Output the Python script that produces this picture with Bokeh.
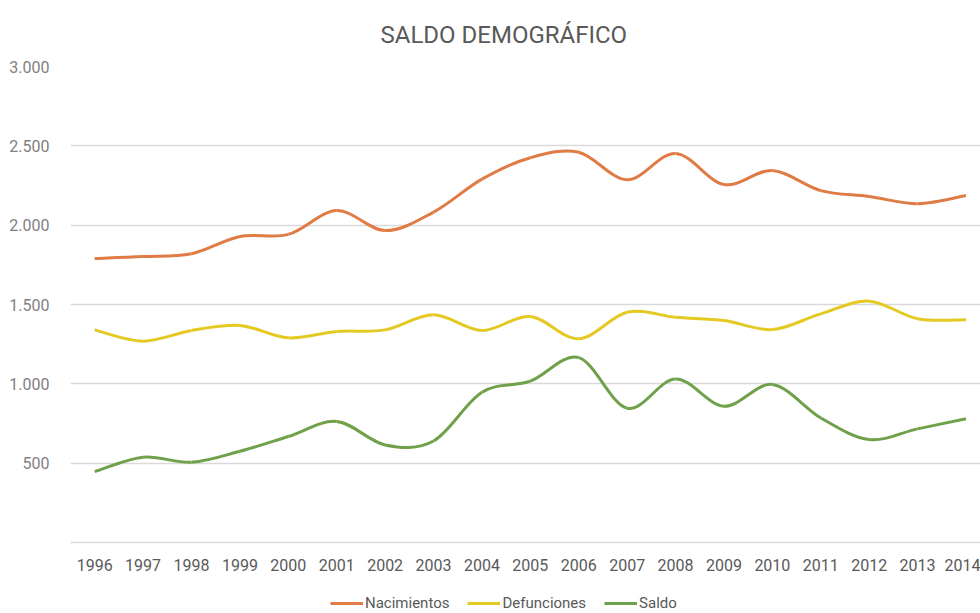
from bokeh.plotting import figure
from bokeh.layouts import column
from bokeh.models import ColumnDataSource, FixedTicker, Range1d, Legend, LegendItem
from bokeh.embed import file_html
from bokeh.resources import INLINE

years = list(range(1996, 2015))
nacimientos = [1790, 1802, 1820, 1929, 1942, 2092, 1966, 2082, 2290, 2425, 2460, 2286, 2452, 2256, 2345, 2218, 2181, 2135, 2187]
defunciones = [1340, 1269, 1336, 1368, 1290, 1330, 1340, 1435, 1336, 1424, 1284, 1451, 1420, 1399, 1342, 1441, 1521, 1410, 1404]
saldo = [447, 538, 506, 575, 668, 763, 615, 640, 947, 1017, 1165, 846, 1031, 859, 996, 785, 649, 716, 780]

series_names = ["Nacimientos", "Defunciones", "Saldo"]
series_colors = ["#E07B45", "#E3C922", "#6FA14A"]
y_ticks = [0, 500, 1000, 1500, 2000, 2500, 3000]
y_labels = {0: "", 500: "500", 1000: "1.000", 1500: "1.500", 2000: "2.000", 2500: "2.500", 3000: "3.000"}

FONT = "Roboto"


def smooth_source(xs, ys):
    n = len(xs)
    d = dict(x0=[], y0=[], x1=[], y1=[], cx0=[], cy0=[], cx1=[], cy1=[])
    for i in range(n - 1):
        xp, yp = (xs[i - 1], ys[i - 1]) if i > 0 else (xs[i], ys[i])
        xn, yn = (xs[i + 2], ys[i + 2]) if i + 2 < n else (xs[i + 1], ys[i + 1])
        d["x0"].append(xs[i]); d["y0"].append(ys[i])
        d["x1"].append(xs[i + 1]); d["y1"].append(ys[i + 1])
        d["cx0"].append(xs[i] + (xs[i + 1] - xp) / 6.0)
        d["cy0"].append(ys[i] + (ys[i + 1] - yp) / 6.0)
        d["cx1"].append(xs[i + 1] - (xn - xs[i]) / 6.0)
        d["cy1"].append(ys[i + 1] - (yn - ys[i]) / 6.0)
    return ColumnDataSource(d)


p = figure(width=980, height=588, output_backend="svg", toolbar_location=None,
           x_range=Range1d(1995.5, 2014.3), y_range=Range1d(0, 3000),
           min_border_left=70, min_border_right=0, min_border_top=66, min_border_bottom=46)

p.title.text = "SALDO DEMOGRÁFICO"
p.title.align = "left"
p.title.offset = 310
p.title.standoff = 36
p.title.text_font = FONT
p.title.text_font_size = "24px"
p.title.text_font_style = "normal"
p.title.text_color = "#595959"

p.outline_line_color = None
p.xgrid.grid_line_color = None
p.ygrid.grid_line_color = "#D9D9D9"
p.ygrid.grid_line_width = 1.3
p.ygrid.ticker = FixedTicker(ticks=y_ticks)

p.yaxis.ticker = FixedTicker(ticks=y_ticks)
p.yaxis.major_label_overrides = y_labels
p.yaxis.axis_line_color = None
p.yaxis.major_tick_line_color = None
p.yaxis.minor_tick_line_color = None
p.yaxis.major_label_text_font = FONT
p.yaxis.major_label_text_font_size = "16px"
p.yaxis.major_label_text_color = "#7F7F7F"
p.yaxis.major_label_standoff = 15

p.xaxis.ticker = FixedTicker(ticks=years)
p.xaxis.axis_line_color = "#D9D9D9"
p.xaxis.axis_line_width = 1.3
p.xaxis.major_tick_line_color = None
p.xaxis.minor_tick_line_color = None
p.xaxis.major_label_text_font = FONT
p.xaxis.major_label_text_font_size = "16px"
p.xaxis.major_label_text_color = "#595959"
p.xaxis.major_label_standoff = 10

# legend strip: a small figure whose renderers draw the same series (off-view),
# used only to show the legend swatches below the chart
lg = figure(width=980, height=25, output_backend="svg", toolbar_location=None,
            x_range=Range1d(0, 1), y_range=Range1d(0, 1),
            min_border_left=0, min_border_right=0, min_border_top=0, min_border_bottom=0)
lg.axis.visible = False
lg.grid.visible = False
lg.outline_line_color = None

items = []
for name, vals, col in zip(series_names, [nacimientos, defunciones, saldo], series_colors):
    src = smooth_source(years, vals)
    p.bezier(x0="x0", y0="y0", x1="x1", y1="y1", cx0="cx0", cy0="cy0", cx1="cx1", cy1="cy1",
             source=src, line_color=col, line_width=3)
    r2 = lg.bezier(x0="x0", y0="y0", x1="x1", y1="y1", cx0="cx0", cy0="cy0", cx1="cx1", cy1="cy1",
                   source=src, line_color=col, line_width=3)
    items.append(LegendItem(label=name, renderers=[r2]))

legend = Legend(items=items, orientation="horizontal", location=(260, 1),
                border_line_color=None, background_fill_alpha=0,
                label_text_font=FONT, label_text_font_size="15px", label_text_color="#595959",
                glyph_width=33, glyph_height=14, label_standoff=2, spacing=18, padding=0, margin=0)
lg.add_layout(legend)

layout = column(p, lg, spacing=0)
open("out.html", "w").write(file_html(layout, INLINE))
